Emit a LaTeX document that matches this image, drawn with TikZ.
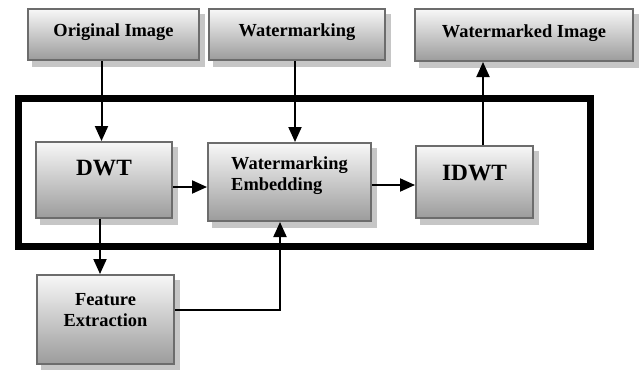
\documentclass[tikz,border=0pt]{standalone}
\usepackage{fontspec}
\setmainfont{Liberation Serif}
\usetikzlibrary{arrows.meta,backgrounds}

\tikzset{
    blockbox/.style={draw=gray!115,line width=2pt,top color=gray!6,bottom color=gray!78},
    smalltext/.style={font=\bfseries\fontsize{18.4}{21}\selectfont,align=left},
    bigtext/.style={font=\bfseries\fontsize{23.3}{26}\selectfont},
    arr/.style={line width=2pt,-{Triangle[length=15pt,width=13pt]}}
}

\begin{document}
\begin{tikzpicture}[x=1pt,y=-1pt]
    \useasboundingbox (0,0) rectangle (639,369);
    % The thick frame round the transform stage
    \draw[line width=7pt] (18.5,98.5) rectangle (590,246);
    % Inputs and output on top
    \node[blockbox,minimum width=171pt,minimum height=51pt,
        label={[smalltext,yshift=2pt]center:Original Image}] (orig) at (113.5,34.5) {};
    \node[blockbox,minimum width=176pt,minimum height=51pt,
        label={[smalltext,yshift=2pt]center:Watermarking}] (wm) at (297,34.5) {};
    \node[blockbox,minimum width=218pt,minimum height=52pt,
        label={[smalltext,yshift=2pt]center:Watermarked Image}] (wmd) at (524,35) {};
    % The blocks inside the frame
    \node[blockbox,minimum width=136pt,minimum height=76pt,
        label={[bigtext,yshift=12pt]center:DWT}] (dwt) at (104,180) {};
    \node[blockbox,minimum width=163pt,minimum height=78pt,
        label={[smalltext,yshift=6pt]center:Watermarking\\Embedding}] (emb) at (289.5,182) {};
    \node[blockbox,minimum width=117pt,minimum height=72pt,
        label={[bigtext,yshift=9pt]center:IDWT}] (idwt) at (474.5,182) {};
    % Feature block below the frame
    \node[blockbox,minimum width=137pt,minimum height=89pt,
        label={[smalltext,align=center,yshift=9pt]center:Feature\\Extraction}] (feat) at (105.5,319.5) {};
    % Soft shadow behind every block
    \begin{scope}[on background layer]
        \foreach \blk in {orig,wm,wmd,dwt,emb,idwt,feat}
            \fill[gray!45] ([shift={(5pt,-6pt)}]\blk.south west) rectangle ([shift={(5pt,-6pt)}]\blk.north east);
    \end{scope}
    % Connections between the blocks
    \draw[arr] ([xshift=-12pt]orig.south) -- ([xshift=-12pt]orig.south |- dwt.north);
    \draw[arr] ([xshift=-2pt]wm.south) -- ([xshift=-2pt]wm.south |- emb.north);
    \draw[arr] ([yshift=-7pt]dwt.east) -- ([yshift=-7pt]dwt.east -| emb.west);
    \draw[arr] ([yshift=-3pt]emb.east) -- ([yshift=-3pt]emb.east -| idwt.west);
    \draw[arr] ([xshift=8.5pt]idwt.north) -- ([xshift=8.5pt]idwt.north |- wmd.south);
    \draw[arr] ([xshift=-4pt]dwt.south) -- ([xshift=-4pt]dwt.south |- feat.north);
    \draw[arr] ([yshift=9.5pt]feat.east) -| ([xshift=-9.5pt]emb.south);
\end{tikzpicture}
\end{document}
